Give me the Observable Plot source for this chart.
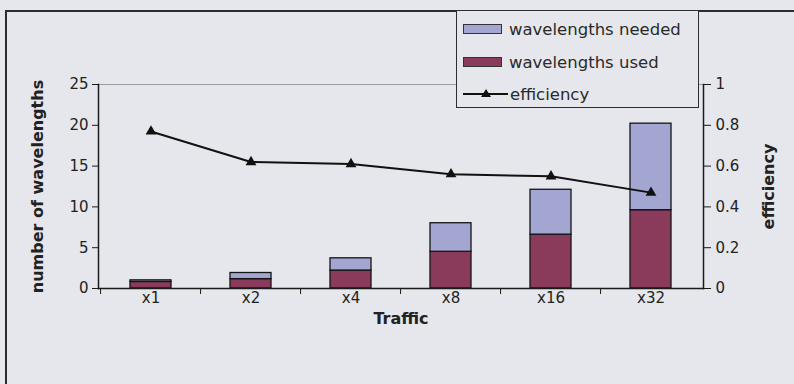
<!DOCTYPE html>
<html>
<head>
<meta charset="utf-8">
<script src="https://cdn.jsdelivr.net/npm/d3@7"></script>
<script src="https://cdn.jsdelivr.net/npm/@observablehq/plot@0.6"></script>
<style>
  html, body { margin: 0; padding: 0; background: #e5e7ec; }
  #wrap { position: relative; width: 794px; height: 384px; overflow: hidden; background: #e5e7ec; font-family: "DejaVu Sans", sans-serif; }
  #wrap svg { position: absolute; left: 0; top: 0; }
  #frame { position: absolute; left: 5px; top: 10px; width: 800px; height: 400px; border-left: 2px solid #2b2b3a; border-top: 2px solid #2b2b3a; }
  #legend { position: absolute; left: 456px; top: 10px; width: 243px; height: 98px; box-sizing: border-box; border: 1.5px solid #2b2b3a; background: #e5e7ec; }
  .item { position: absolute; left: 6px; height: 20px; display: flex; align-items: center; font-size: 16.5px; color: #2a2a2a; white-space: nowrap; }
  .sw { display: inline-block; width: 39px; height: 10px; border: 1px solid #333; margin-right: 7px; box-sizing: border-box; }
  .ln { position: relative; display: inline-block; width: 45px; height: 10px; margin-right: 2px; }
  .ln::before { content: ""; position: absolute; left: 0; right: 0; top: 4px; height: 2px; background: #111; }
  .ln::after { content: ""; position: absolute; left: 18px; top: 0px; width: 0; height: 0; border-left: 5px solid transparent; border-right: 5px solid transparent; border-bottom: 8px solid #111; }
</style>
</head>
<body>
<div id="wrap">
  <div id="frame"></div>
</div>
<script>
const categories = ["x1", "x2", "x4", "x8", "x16", "x32"];
const wavelengthsNeeded = [1.0, 1.9, 3.7, 8.0, 12.1, 20.2];
const wavelengthsUsed = [0.8, 1.15, 2.2, 4.5, 6.6, 9.6];
const efficiency = [0.77, 0.62, 0.61, 0.56, 0.55, 0.47];
const leftTicks = [0, 5, 10, 15, 20, 25];
const rightTicks = [0, 0.2, 0.4, 0.6, 0.8, 1];
const seriesNames = ["wavelengths needed", "wavelengths used", "efficiency"];
const colors = { needed: "#a3a6d1", used: "#8a3a5a", line: "#111111" };

const rows = categories.map((c, i) => ({
  cat: c,
  needed: wavelengthsNeeded[i],
  used: wavelengthsUsed[i],
  eff: efficiency[i]
}));

const W = 794, H = 384, mL = 98, mR = 91, mT = 84, mB = 96;
const step = (W - mL - mR) / categories.length;
const yMax = 25;

const chart = Plot.plot({
  width: W, height: H,
  marginLeft: mL, marginRight: mR, marginTop: mT, marginBottom: mB,
  style: { background: "transparent", fontFamily: "DejaVu Sans, sans-serif", fontSize: "15px", color: "#222" },
  x: { domain: categories, paddingInner: 0.59, paddingOuter: 0.295, axis: null },
  y: { domain: [0, yMax], axis: null },
  marks: [
    Plot.ruleY([yMax], { stroke: "#9a9aa2", strokeWidth: 1 }),
    Plot.barY(rows, { x: "cat", y1: 0, y2: "used", fill: colors.used, stroke: "#151515", strokeWidth: 1.3 }),
    Plot.barY(rows, { x: "cat", y1: "used", y2: "needed", fill: colors.needed, stroke: "#151515", strokeWidth: 1.3 }),
    Plot.line(rows, { x: "cat", y: d => d.eff * yMax, stroke: colors.line, strokeWidth: 2 }),
    Plot.dot(rows, { x: "cat", y: d => d.eff * yMax, symbol: "triangle", fill: colors.line, r: 4 }),
    Plot.frame({ anchor: "left", stroke: "#1a1a1a", strokeWidth: 1.5 }),
    Plot.frame({ anchor: "right", stroke: "#1a1a1a", strokeWidth: 1.5 }),
    Plot.frame({ anchor: "bottom", stroke: "#1a1a1a", strokeWidth: 1.5 }),
    Plot.axisY(leftTicks, { anchor: "left", tickSize: 6, tickPadding: 4, label: null, fontSize: 15, stroke: "#1a1a1a" }),
    Plot.axisY(rightTicks.map(v => v * yMax), { anchor: "right", tickSize: 7, tickPadding: 5, label: null, fontSize: 15, stroke: "#1a1a1a",
      tickFormat: (d, i) => String(rightTicks[i]) }),
    Plot.axisX({ anchor: "bottom", tickSize: 0, tickPadding: 4, label: null, fontSize: 15 }),
    Plot.axisX({ anchor: "bottom", tickSize: 6, tickFormat: () => "", label: null, dx: -step / 2, stroke: "#1a1a1a" }),
    Plot.text(["number of wavelengths"], { frameAnchor: "left", textAnchor: "middle", rotate: -90, dx: -61, fontWeight: "bold", fontSize: 16, fill: "#222" }),
    Plot.text(["efficiency"], { frameAnchor: "right", textAnchor: "middle", rotate: -90, dx: 65, fontWeight: "bold", fontSize: 16, fill: "#222" }),
    Plot.text(["Traffic"], { frameAnchor: "bottom", dy: 35, fontWeight: "bold", fontSize: 16, fill: "#222" })
  ]
});

const wrap = document.getElementById("wrap");
wrap.appendChild(chart);

const legend = document.createElement("div");
legend.id = "legend";
const tops = [18, 51, 83];
seriesNames.forEach((name, i) => {
  const item = document.createElement("div");
  item.className = "item";
  item.style.top = tops[i] - 10 + "px";
  const mark = document.createElement("span");
  if (i < 2) {
    mark.className = "sw";
    mark.style.background = i === 0 ? colors.needed : colors.used;
  } else {
    mark.className = "ln";
  }
  item.appendChild(mark);
  item.appendChild(document.createTextNode(name));
  legend.appendChild(item);
});
wrap.appendChild(legend);
</script>
</body>
</html>
